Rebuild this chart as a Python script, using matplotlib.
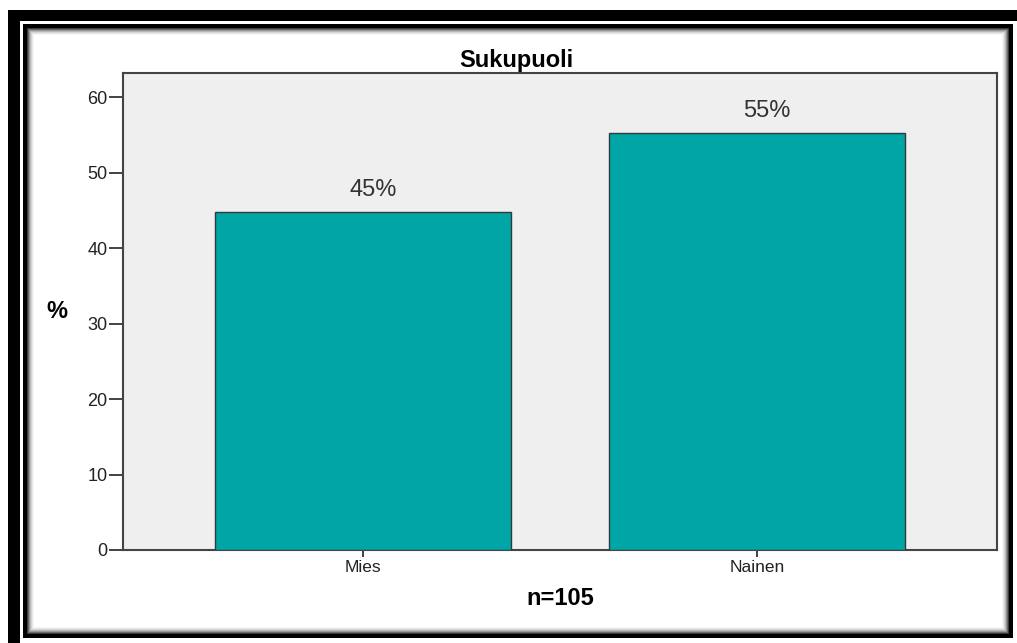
import matplotlib.pyplot as plt
from matplotlib.patches import Rectangle

plt.rcParams['font.family'] = ['Liberation Sans', 'DejaVu Sans']

# gender split, n=105
categories = ['Mies', 'Nainen']
counts = [47, 58]
n_total = sum(counts)
percents = [c / n_total * 100 for c in counts]
labels = ['45%', '55%']
yticks = [0, 10, 20, 30, 40, 50, 60]

fig = plt.figure(figsize=(10.17, 6.43), dpi=100)
W, H = 1017, 643


def px_rect(x0, y0, x1, y1, color):
    # rectangle given in pixel coords (top-left origin), kept behind the axes
    fig.patches.append(Rectangle((x0 / W, 1 - y1 / H), (x1 - x0) / W, (y1 - y0) / H,
                                 transform=fig.transFigure, facecolor=color,
                                 edgecolor='none', zorder=-10))


# picture frame: thick outer band on top/left, thin inner border, soft inner shadow
px_rect(8, 10, 20, 643, 'black')
px_rect(8, 10, 1017, 21, 'black')
px_rect(23, 24, 1013, 638, 'black')
shades = ['#3a3a3a', '#6a6a6a', '#959595', '#b8b8b8', '#d4d4d4', '#e8e8e8', '#f6f6f6', 'white']
for i, c in enumerate(shades):
    px_rect(27 + i, 28 + i, 1009 - i, 634 - i, c)

ax = fig.add_axes([123 / W, 1 - 550 / H, (997 - 123) / W, (550 - 73) / H])
ax.set_zorder(5)
ax.set_facecolor('#efefef')

x = list(range(len(categories)))
ax.bar(x, percents, width=0.75, color='#00a5a5', edgecolor='#2f3b3b', linewidth=1.0, zorder=3)
for xi, p, lab in zip(x, percents, labels):
    ax.annotate(lab, (xi, p), xytext=(7, 8), textcoords='offset points',
                ha='center', va='bottom', fontsize=17, color='#333333')

ax.set_xlim(-0.609, 1.609)
ax.set_ylim(0, 63.2)
ax.set_yticks(yticks)
ax.set_xticks(x)
ax.set_xticklabels(categories)
ax.tick_params(axis='y', length=10, width=1.2, pad=1, labelsize=13, colors='#222222')
ax.tick_params(axis='x', length=5, width=1.2, pad=2, labelsize=12.5, colors='#222222')
for s in ax.spines.values():
    s.set_color('#444444')
    s.set_linewidth(1.5)

ax.set_title('Sukupuoli', fontsize=17, fontweight='bold', pad=4, x=0.45)
ax.set_xlabel('n=105', fontsize=17, fontweight='bold', labelpad=9)
ax.set_ylabel('%', fontsize=17, fontweight='bold', rotation=0, labelpad=22, va='center')

fig.savefig('out.png', dpi=100)
